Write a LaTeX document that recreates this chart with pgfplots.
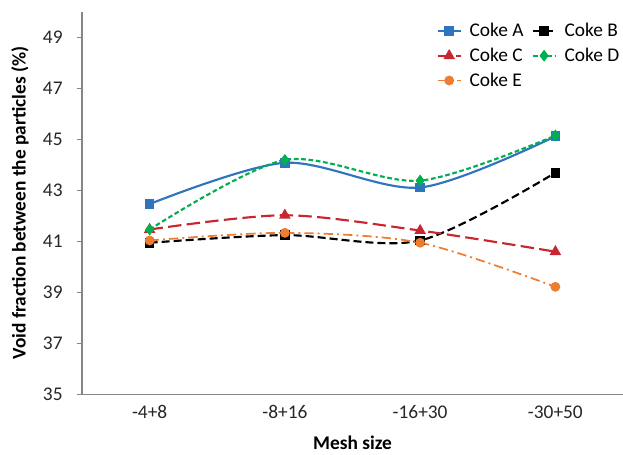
\documentclass[border=0pt]{standalone}
\usepackage{pgfplots}
\pgfplotsset{compat=1.18}
\usepackage{fontspec}
\setmainfont{Carlito}
\definecolor{cA}{RGB}{46,117,190}
\definecolor{cC}{RGB}{200,38,48}
\definecolor{cD}{RGB}{0,176,80}
\definecolor{cE}{RGB}{237,125,49}
\definecolor{axgray}{RGB}{134,134,134}
\begin{document}
\begin{tikzpicture}
\begin{axis}[
  name=ax,
  scale only axis,
  width=405pt, height=286pt,
  xmin=-0.5, xmax=3.5, ymin=35, ymax=50,
  axis x line=bottom, axis y line=left,
  axis line style={-, draw=axgray, line width=0.8pt},
  tick align=outside,
  tick style={draw=axgray, line width=0.7pt},
  major tick length=4pt,
  xtick={0,1,2,3},
  xticklabels={-4+8,-8+16,-16+30,-30+50},
  x tick style={draw=none},
  extra x ticks={0.5,1.5,2.5},
  extra x tick labels={},
  extra x tick style={tick style={draw=axgray, line width=0.7pt}},
  ytick={35,37,...,49},
  /pgf/number format/assume math mode=true,
  ticklabel style={font=\fontsize{14.5}{16}\selectfont, text=black!85},
  yticklabel style={xshift=-7pt},
  xticklabel style={yshift=-1pt},
  xlabel={\textbf{Mesh size}},
  ylabel={\textbf{Void fraction between the particles (\%)}},
  label style={font=\fontsize{14.5}{16}\selectfont, inner sep=0pt},
  xlabel style={at={(axis description cs:0.5,-0.128)}, anchor=center},
  ylabel style={at={(axis description cs:-0.1146,0.5)}, anchor=center},
  legend style={draw=none, fill=none, at={(0.996,0.975)}, anchor=north east,
    font=\fontsize{14.5}{16}\selectfont, legend columns=2,
    column sep=5pt, row sep=5pt, inner sep=0pt, nodes={inner sep=1pt}},
  legend cell align=left,
  every axis plot/.append style={line width=1.6pt},
]
\addplot[cA, smooth, mark=square*, mark size=2.8pt, mark options={solid}]
  coordinates {(0,42.46) (1,44.08) (2,43.11) (3,45.12)};
\addlegendentry{Coke A}
\addplot[black, smooth, dash pattern=on 6pt off 3pt, mark=square*, mark size=2.8pt, mark options={solid}]
  coordinates {(0,40.94) (1,41.24) (2,41.03) (3,43.69)};
\addlegendentry{Coke B}
\addplot[cC, smooth, dash pattern=on 10pt off 4pt, mark=triangle*, mark size=3.4pt, mark options={solid}]
  coordinates {(0,41.46) (1,42.02) (2,41.42) (3,40.59)};
\addlegendentry{Coke C}
\addplot[cD, smooth, dash pattern=on 3.5pt off 2pt, mark=diamond*, mark size=3.2pt, mark options={solid}]
  coordinates {(0,41.46) (1,44.19) (2,43.38) (3,45.15)};
\addlegendentry{Coke D}
\addplot[cE, smooth, line width=1.3pt, dash pattern=on 7pt off 3pt on 1.5pt off 3pt, mark=*, mark size=3pt, mark options={solid}]
  coordinates {(0,41.03) (1,41.33) (2,40.94) (3,39.21)};
\addlegendentry{Coke E}
\end{axis}
\pgfresetboundingbox
\path ([xshift=-61.4pt,yshift=-45.5pt]ax.south west) rectangle ([yshift=9pt]ax.north east);
\end{tikzpicture}
\end{document}
